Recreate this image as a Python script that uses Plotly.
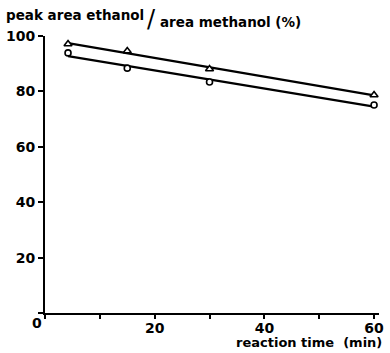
import numpy as np
import plotly.graph_objects as go

# reaction time (min)
time_min = [4.2, 15, 30, 60]
# peak area ratio ethanol / methanol (%)
ratio_triangle = [97.1, 94.6, 88.1, 78.7]
ratio_circle = [93.9, 88.4, 83.4, 75.1]

x_ticks = [0, 10, 20, 30, 40, 50, 60]
x_ticklabels = ["", "", "20", "", "40", "", "60"]
y_ticks = [0, 20, 40, 60, 80, 100]
y_ticklabels = ["", "20", "40", "60", "80", "100"]

FONT = "DejaVu Sans"
fig = go.Figure()

# least-squares straight lines through each series
t = np.array(time_min, dtype=float)
for vals in (ratio_triangle, ratio_circle):
    k, b = np.polyfit(t, np.array(vals), 1)
    xs = np.array([t.min(), t.max()])
    fig.add_trace(go.Scatter(x=xs, y=k * xs + b, mode="lines",
                             line=dict(color="black", width=2.2),
                             showlegend=False, hoverinfo="skip"))

fig.add_trace(go.Scatter(x=time_min, y=ratio_triangle, mode="markers",
                         marker=dict(symbol="triangle-up", size=7, color="white",
                                     line=dict(color="black", width=1.6)),
                         showlegend=False))
fig.add_trace(go.Scatter(x=time_min, y=ratio_circle, mode="markers",
                         marker=dict(symbol="circle", size=6, color="white",
                                     line=dict(color="black", width=1.6)),
                         showlegend=False))

fig.update_layout(
    width=390, height=353,
    margin=dict(l=44, r=6, t=36, b=40),
    paper_bgcolor="white", plot_bgcolor="white",
    font=dict(family=FONT, color="black", size=14),
    xaxis=dict(range=[0, 60.9], tickvals=x_ticks, ticktext=x_ticklabels,
               showgrid=False, zeroline=False, showline=True,
               linecolor="black", linewidth=2, ticks="outside", ticklen=4,
               tickwidth=1.5, tickcolor="black", ticklabelstandoff=-3,
               tickfont=dict(family=FONT, size=14, weight="bold")),
    yaxis=dict(range=[0, 100], tickvals=y_ticks, ticktext=y_ticklabels,
               showgrid=False, zeroline=False, showline=True,
               linecolor="black", linewidth=2, ticks="outside", ticklen=5,
               tickwidth=1.5, tickcolor="black", ticklabelstandoff=0,
               tickfont=dict(family=FONT, size=14, weight="bold")),
)

# origin label and axis titles
fig.add_annotation(x=0, y=0, xref="x", yref="y", text="<b>0</b>", showarrow=False,
                   xanchor="right", yanchor="top", xshift=-1, yshift=0,
                   font=dict(family=FONT, size=14))
fig.add_annotation(x=1, y=0, xref="paper", yref="paper", text="<b>reaction time  (min)</b>",
                   showarrow=False, xanchor="right", yanchor="top", yshift=-20, xshift=5,
                   font=dict(family=FONT, size=13))
fig.add_annotation(x=0, y=1, xref="paper", yref="paper", text="<b>peak area ethanol</b>",
                   showarrow=False, xanchor="left", yanchor="bottom", xshift=-41, yshift=11,
                   font=dict(family=FONT, size=13.5))
fig.add_annotation(x=0, y=1, xref="paper", yref="paper", text="/", showarrow=False,
                   xanchor="left", yanchor="bottom", xshift=100, yshift=1,
                   font=dict(family=FONT, size=24))
fig.add_annotation(x=0, y=1, xref="paper", yref="paper", text="<b>area methanol (%)</b>",
                   showarrow=False, xanchor="left", yanchor="bottom", xshift=113, yshift=4,
                   font=dict(family=FONT, size=13.5))

fig.write_html("out.html")
